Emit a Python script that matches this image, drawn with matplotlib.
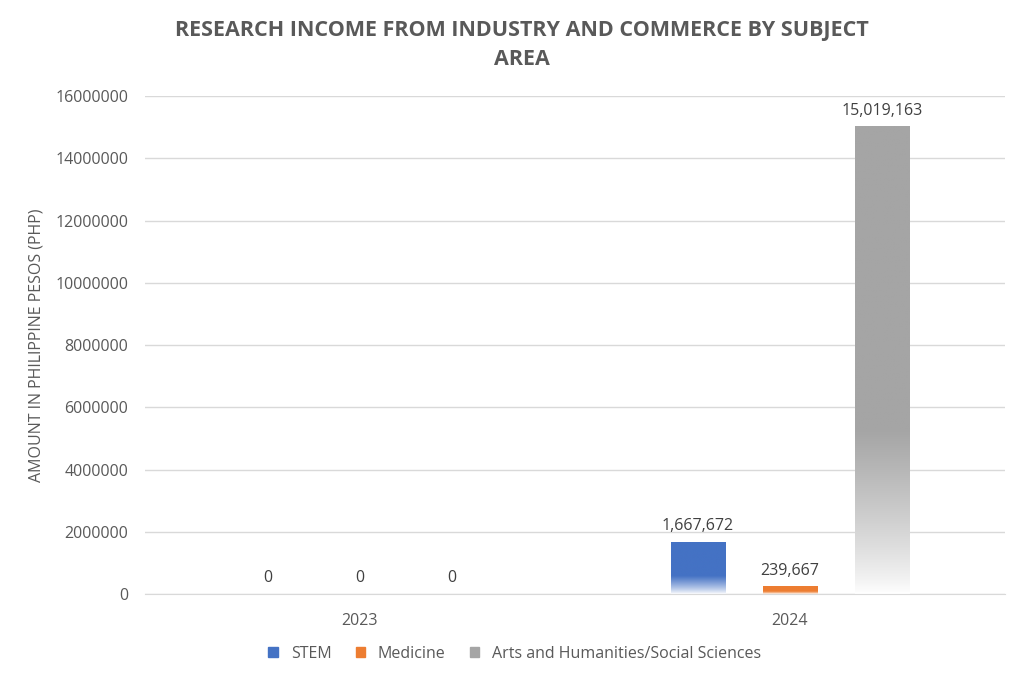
import matplotlib.pyplot as plt
import numpy as np
from matplotlib.colors import to_rgb
from matplotlib.patches import Rectangle

plt.rcParams['font.family'] = ['Open Sans', 'DejaVu Sans']

years = ['2023', '2024']
series = ['STEM', 'Medicine', 'Arts and Humanities/Social Sciences']
stem = [0, 1667672]
medicine = [0, 239667]
arts = [0, 15019163]
colors = ['#4472C4', '#ED7D31', '#A5A5A5']

fig = plt.figure(figsize=(10.24, 6.82), dpi=100)
ax = fig.add_axes([0.1416, 0.129, 0.8398, 0.730])

x = np.arange(len(years))
width = 0.126
offsets = [-0.214, 0, 0.214]

# vertical gradient: solid colour at top, fading to white near the base
t = np.linspace(0, 1, 256)
fade = np.clip(t / 0.35, 0, 1) ** 0.8

for vals, col, off, name in zip([stem, medicine, arts], colors, offsets, series):
    rgb = np.array(to_rgb(col))
    grad = (1 - fade)[:, None] * np.ones(3) + fade[:, None] * rgb
    img = grad[::-1][:, None, :]
    for xi, v in zip(x, vals):
        left = xi + off - width / 2
        if v > 0:
            ax.imshow(img, extent=[left, left + width, 0, v], aspect='auto',
                      origin='upper', zorder=2)
        ax.text(xi + off, v + 250000, f'{v:,}', ha='center', va='bottom',
                fontsize=11.5, color='#404040')
    ax.add_patch(Rectangle((0, 0), 0, 0, color=col, label=name))

ax.set_xlim(-0.5, 1.5)
ax.set_ylim(0, 16000000)
ax.set_yticks(np.arange(0, 16000001, 2000000))
ax.set_yticklabels([str(v) for v in range(0, 16000001, 2000000)])
ax.set_xticks(x)
ax.set_xticklabels(years)
ax.tick_params(colors='#595959', labelsize=11.5, length=0)
ax.tick_params(axis='x', pad=14)
ax.tick_params(axis='y', pad=12)
ax.grid(axis='y', color='#D9D9D9', linewidth=1, zorder=0)
ax.set_axisbelow(True)
for s in ['top', 'right', 'left']:
    ax.spines[s].set_visible(False)
ax.spines['bottom'].set_color('#D9D9D9')
ax.set_ylabel('AMOUNT IN PHILIPPINE PESOS (PHP)', color='#595959', fontsize=11.5,
              labelpad=8)

fig.suptitle('RESEARCH INCOME FROM INDUSTRY AND COMMERCE BY SUBJECT\nAREA',
             x=0.51, y=0.97, fontsize=15.5, fontweight='bold', color='#595959',
             linespacing=1.5)
ax.legend(loc='upper center', bbox_to_anchor=(0.43, -0.075), ncol=3, frameon=False,
          fontsize=11.5, handlelength=0.6, handleheight=0.6, labelcolor='#595959',
          columnspacing=1.5)

fig.savefig('out.png', dpi=100)
